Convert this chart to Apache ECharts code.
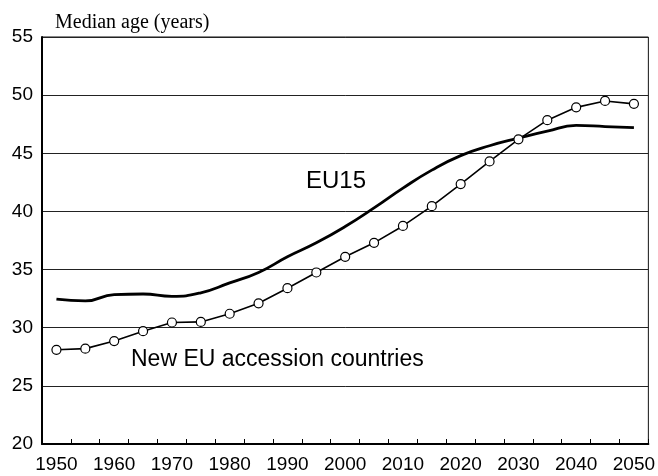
<!DOCTYPE html>
<html>
<head>
<meta charset="utf-8">
<script src="https://cdn.jsdelivr.net/npm/echarts@6/dist/echarts.min.js"></script>
<style>
html,body{margin:0;padding:0;background:#fff;}
#chart{width:658px;height:476px;}
</style>
</head>
<body>
<div id="chart"></div>
<script>
const years = ['1950','1955','1960','1965','1970','1975','1980','1985','1990','1995','2000','2005','2010','2015','2020','2025','2030','2035','2040','2045','2050'];
const eu15 = [32.45,32.3,32.85,32.9,32.7,33.0,33.85,34.75,36.1,37.3,38.7,40.3,42.0,43.55,44.8,45.65,46.3,46.9,47.4,47.3,47.2];
const newEU = [28.1,28.2,28.85,29.7,30.45,30.5,31.2,32.1,33.4,34.75,36.1,37.3,38.75,40.45,42.35,44.3,46.2,47.85,48.95,49.5,49.25];
const yTicks = {min:20, max:55, interval:5};
const titleText = 'Median age (years)';
const label1 = 'EU15';
const label2 = 'New EU accession countries';

const chart = echarts.init(document.getElementById('chart'), null, {renderer:'canvas'});
const sans = 'Liberation Sans, Arial, Helvetica, sans-serif';
chart.setOption({
  animation:false,
  backgroundColor:'#fff',
  grid:{left:42, right:7, top:37, bottom:32, show:true, borderColor:'#111', borderWidth:1, backgroundColor:'transparent'},
  title:{text:titleText, left:50, top:8, textStyle:{fontFamily:'Liberation Serif, Times New Roman, serif', fontSize:20, fontWeight:'normal', color:'#000'}},
  xAxis:{
    type:'category', data:years, boundaryGap:true,
    axisLine:{show:true, lineStyle:{color:'#000', width:2}},
    axisTick:{show:true, inside:true, length:5, interval:0, alignWithLabel:false, lineStyle:{color:'#000', width:1}},
    axisLabel:{interval:1, margin:11, fontFamily:sans, fontSize:19, color:'#000'},
    splitLine:{show:false}
  },
  yAxis:{
    type:'value', min:yTicks.min, max:yTicks.max, interval:yTicks.interval,
    axisLine:{show:true, lineStyle:{color:'#000', width:2}},
    axisTick:{show:false},
    axisLabel:{margin:9, fontFamily:sans, fontSize:19, color:'#000'},
    splitLine:{show:true, lineStyle:{color:'#222', width:1}}
  },
  series:[
    {name:'EU15', type:'line', data:eu15, smooth:0.5, showSymbol:false, symbol:'none',
     lineStyle:{color:'#000', width:2.8}, z:3},
    {name:'New EU accession countries', type:'line', data:newEU, smooth:false,
     symbol:'circle', symbolSize:9, showSymbol:true,
     lineStyle:{color:'#000', width:1.6},
     itemStyle:{color:'#fff', borderColor:'#000', borderWidth:1.2}, z:4}
  ],
  graphic:[
    {type:'text', left:306, top:169, style:{text:label1, font:'24px ' + sans, fill:'#000'}},
    {type:'text', left:131, top:348, style:{text:label2, font:'23px ' + sans, fill:'#000'}}
  ]
});
</script>
</body>
</html>
